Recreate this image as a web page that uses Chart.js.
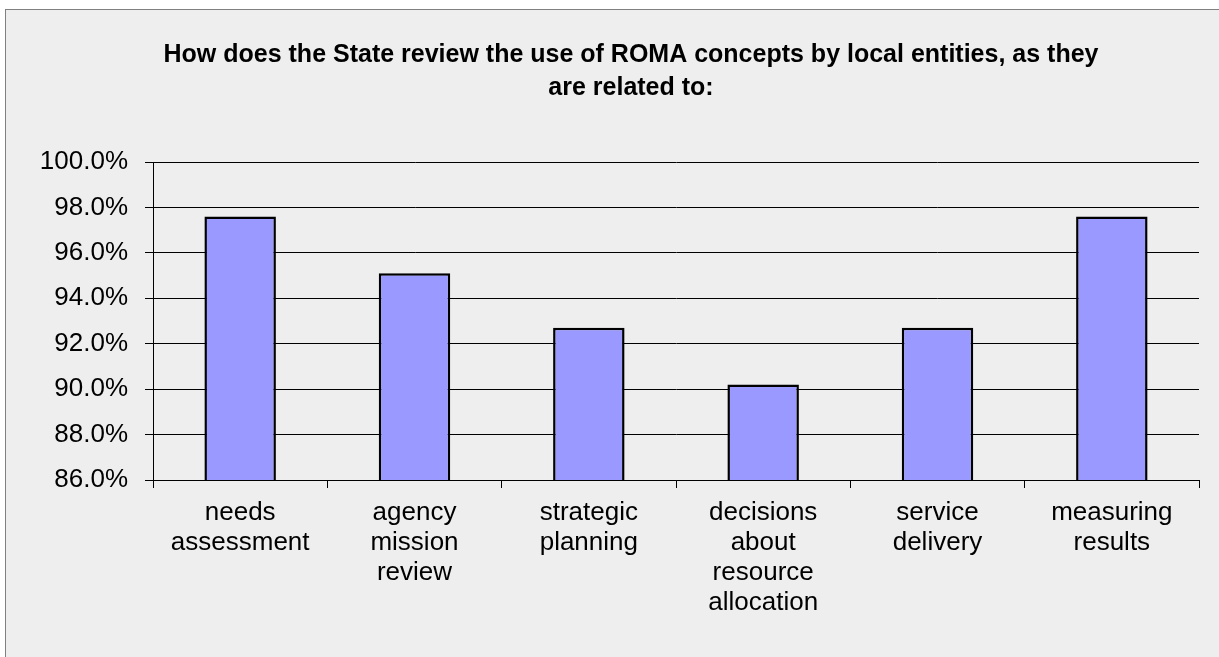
<!DOCTYPE html>
<html>
<head>
<meta charset="utf-8">
<script src="https://cdn.jsdelivr.net/npm/chart.js@4/dist/chart.umd.min.js"></script>
<style>
  html, body { margin: 0; padding: 0; background: #ffffff; width: 1219px; height: 657px; overflow: hidden; }
  #frame { position: absolute; left: 5px; top: 9px; width: 1300px; height: 700px; background: #eeeeee; border-left: 1px solid #808080; border-top: 1px solid #808080; }
  #wrap { position: absolute; left: 0; top: 0; width: 1240px; height: 657px; }
</style>
</head>
<body>
<div id="frame"></div>
<div id="wrap"><canvas id="c" width="1240" height="657"></canvas></div>
<script>
const titleLines = ["How does the State review the use of ROMA concepts by local entities, as they", "are related to:"];
const categories = [
  ["needs", "assessment"],
  ["agency", "mission", "review"],
  ["strategic", "planning"],
  ["decisions", "about", "resource", "allocation"],
  ["service", "delivery"],
  ["measuring", "results"]
];
const values = [97.6, 95.1, 92.7, 90.2, 92.7, 97.6];
const yMin = 86, yMax = 100, yStep = 2;

const FONT = "'Liberation Sans', Arial, Helvetica, sans-serif";

new Chart(document.getElementById('c'), {
  type: 'bar',
  data: {
    labels: categories,
    datasets: [{
      data: values,
      yAxisID: 'y',
      backgroundColor: '#9999ff',
      borderColor: '#000000',
      borderWidth: 2.5,
      barPercentage: 0.41,
      categoryPercentage: 1.0
    }]
  },
  options: {
    responsive: false,
    animation: false,
    devicePixelRatio: 1,
    layout: { padding: { left: 40, right: 18, top: 0, bottom: 0 } },
    plugins: {
      legend: { display: false },
      tooltip: { enabled: false },
      title: {
        display: true,
        text: titleLines,
        color: '#000000',
        font: { family: FONT, size: 25, weight: 'bold', lineHeight: 1.3 },
        padding: { top: 39, bottom: 58 }
      }
    },
    scales: {
      x: {
        grid: { display: true, drawOnChartArea: false, drawTicks: true, tickLength: 8, color: '#000000', lineWidth: 1 },
        border: { display: true, color: '#000000', width: 1 },
        ticks: { color: '#000000', font: { family: FONT, size: 26, lineHeight: 1.15 }, padding: 10, maxRotation: 0, autoSkip: false },
        afterFit: (s) => { s.height = 177; }
      },
      y: {
        position: 'left',
        min: yMin, max: yMax,
        grid: { display: true, drawOnChartArea: true, drawTicks: true, tickLength: 8, color: '#000000', lineWidth: 1 },
        border: { display: true, color: '#000000', width: 1 },
        ticks: {
          stepSize: yStep, color: '#000000', padding: 17,
          font: { family: FONT, size: 26 },
          callback: (v) => v.toFixed(1) + '%'
        },
        afterFit: (s) => { s.width = 113; }
      },
      spacer: {
        type: 'linear',
        position: 'right',
        display: true,
        grid: { display: false },
        border: { display: false },
        ticks: { display: false },
        afterFit: (s) => { s.width = 23; }
      }
    }
  }
});
</script>
</body>
</html>
